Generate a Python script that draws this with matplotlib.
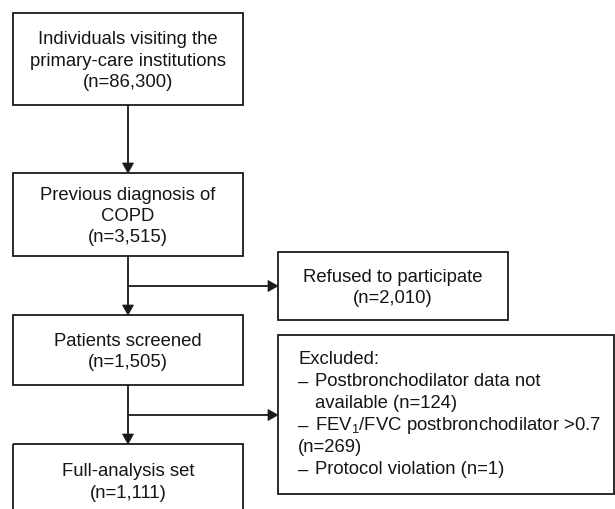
import matplotlib
matplotlib.use("Agg")
import matplotlib.pyplot as plt
from matplotlib.patches import Rectangle, Polygon

plt.rcParams['font.family'] = ['Liberation Sans', 'DejaVu Sans']
plt.rcParams['mathtext.default'] = 'regular'

# ---- data ----
main_titles = ["Individuals visiting the\nprimary-care institutions",
               "Previous diagnosis of\nCOPD",
               "Patients screened",
               "Full-analysis set"]
main_counts = ["86,300", "3,515", "1,505", "1,111"]
side_titles = ["Refused to participate"]
side_counts = ["2,010"]
excluded_header = "Excluded:"
excluded_lines = [("– ", "Postbronchodilator data not"),
                  ("", "  available (n=124)"),
                  ("– ", "FEV$_1$/FVC postbronchodilator >0.7"),
                  ("", "(n=269)"),
                  ("– ", "Protocol violation (n=1)")]

# ---- layout (pixel coordinates) ----
W, H = 615, 510
main_x0, main_x1 = 13, 243
main_boxes_y = [(14, 106), (174, 257), (316, 386), (445, 518)]
side_x0, side_x1 = 278, 508
refused_y = (253, 321)
excl_x0, excl_x1 = 278, 614
excl_y = (336, 495)
branch_y = [287, 416]
LC = '#1a1a1a'
TC = '#151515'
LW = 1.3
FS = 13.3
LS = 1.33

fig = plt.figure(figsize=(W / 100, H / 100), dpi=100)
ax = fig.add_axes([0, 0, 1, 1])
ax.set_xlim(0, W)
ax.set_ylim(H, 0)
ax.axis('off')


def box(x0, x1, y0, y1):
    ax.add_patch(Rectangle((x0, y0), x1 - x0, y1 - y0, fill=False,
                           ec=LC, lw=LW, clip_on=True))


def arrowhead(x, y, direction):
    s, hw = 10, 5.5
    if direction == 'down':
        pts = [(x - hw, y - s), (x + hw, y - s), (x, y)]
    else:
        pts = [(x - s, y - hw), (x - s, y + hw), (x, y)]
    ax.add_patch(Polygon(pts, closed=True, fc=LC, ec=LC, lw=0.5))


cx = (main_x0 + main_x1) / 2
for (y0, y1), t, c in zip(main_boxes_y, main_titles, main_counts):
    box(main_x0, main_x1, y0, y1)
    ax.text(cx, (y0 + y1) / 2 + 1, f"{t}\n(n={c})", ha='center', va='center',
            fontsize=FS, linespacing=LS, color=TC)

# vertical arrows between main boxes
for i in range(len(main_boxes_y) - 1):
    ya = main_boxes_y[i][1]
    yb = main_boxes_y[i + 1][0]
    ax.plot([cx, cx], [ya, yb - 9], color=LC, lw=LW, solid_capstyle='butt')
    arrowhead(cx, yb, 'down')

# branches
for by in branch_y:
    ax.plot([cx, side_x0 - 9], [by, by], color=LC, lw=LW, solid_capstyle='butt')
    arrowhead(side_x0, by, 'right')

# refused box
box(side_x0, side_x1, *refused_y)
ax.text((side_x0 + side_x1) / 2, sum(refused_y) / 2 + 1,
        f"{side_titles[0]}\n(n={side_counts[0]})", ha='center', va='center',
        fontsize=FS, linespacing=LS, color=TC)

# excluded box
box(excl_x0, excl_x1, *excl_y)
tx = 298
ty = 360
dy = 22
ax.text(tx, ty, excluded_header, ha='left', va='center', fontsize=FS, color=TC)
for i, (bullet, line) in enumerate(excluded_lines):
    y = ty + dy * (i + 1)
    if bullet:
        ax.text(tx, y, bullet.strip(), ha='left', va='center', fontsize=FS, color=TC)
        ax.text(tx + 17, y, line, ha='left', va='center', fontsize=FS, color=TC)
    elif line.startswith("  "):
        ax.text(tx + 17, y, line.strip(), ha='left', va='center', fontsize=FS, color=TC)
    else:
        ax.text(tx, y, line, ha='left', va='center', fontsize=FS, color=TC)

fig.savefig("out.png", dpi=100, facecolor='white')
